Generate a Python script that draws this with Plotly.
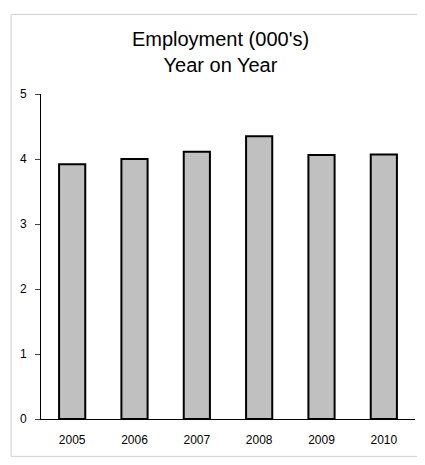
import plotly.graph_objects as go

years = ["2005", "2006", "2007", "2008", "2009", "2010"]
employment = [3.92, 4.0, 4.11, 4.35, 4.06, 4.07]

fig = go.Figure()
fig.add_trace(go.Bar(
    x=years, y=employment,
    marker=dict(color="#c0c0c0", line=dict(color="black", width=2)),
    width=0.42,
))

fig.update_layout(
    width=425, height=465,
    paper_bgcolor="white", plot_bgcolor="white",
    margin=dict(l=31, r=18, t=86, b=54),
    title=dict(text="Employment (000's)<br>Year on Year", x=0.5, xanchor="center",
               y=0.918, yanchor="top",
               font=dict(family="Liberation Sans, Arial", size=20, color="black")),
    font=dict(family="Liberation Sans, Arial", size=12, color="black"),
    showlegend=False,
    xaxis=dict(showline=True, linecolor="black", ticks="", ticklabelstandoff=10,
               tickfont=dict(size=12)),
    yaxis=dict(range=[0, 5], dtick=1, showline=True, linecolor="black", ticks="outside",
               ticklen=5, ticklabelstandoff=6, showgrid=False, zeroline=False,
               tickfont=dict(size=12)),
    shapes=[dict(type="rect", xref="paper", yref="paper", x0=-0.08, x1=1.03, y0=-0.115, y1=1.245,
                 line=dict(color="#d0d0d0", width=1))],
)

fig.write_html("out.html")
